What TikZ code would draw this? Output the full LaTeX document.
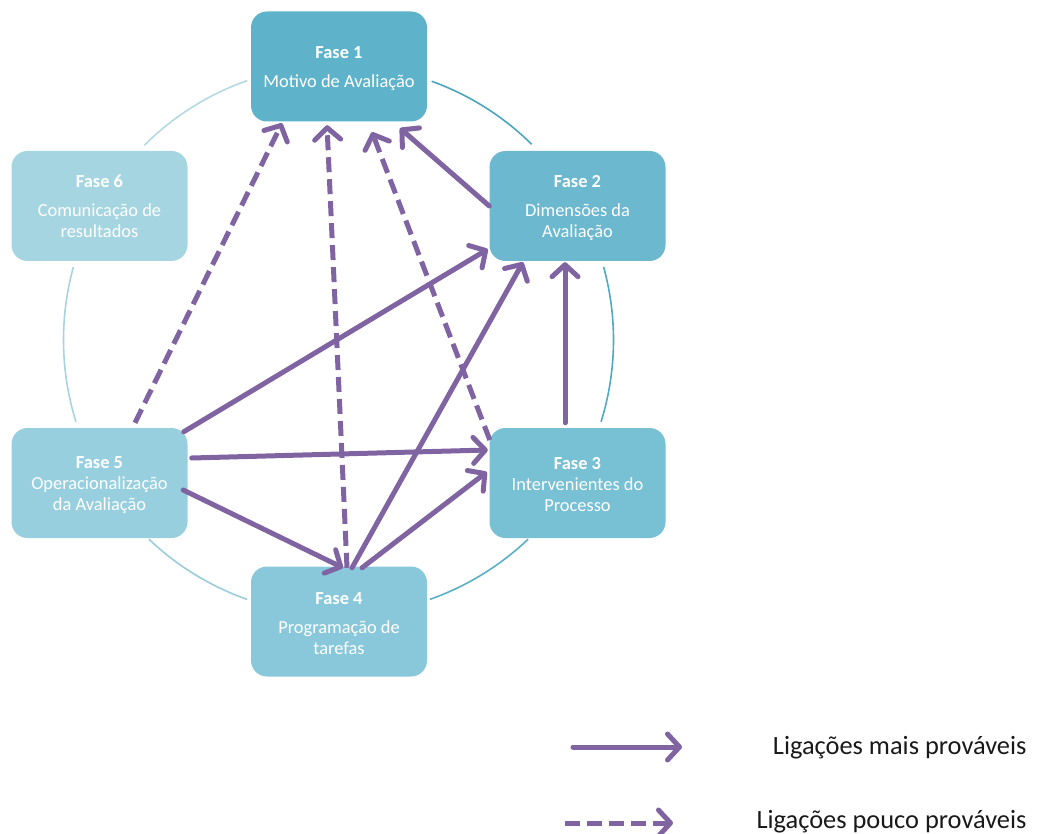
\documentclass[tikz,border=0pt]{standalone}
\usepackage{fontspec}
\setmainfont{Carlito}
\usetikzlibrary{arrows.meta}

% box fills, darkest (phase 1) to lightest (phase 6)
\definecolor{boxA}{HTML}{5EB3CB}
\definecolor{boxB}{HTML}{6BB8CF}
\definecolor{boxC}{HTML}{78C0D4}
\definecolor{boxD}{HTML}{88C8DA}
\definecolor{boxE}{HTML}{97CFDE}
\definecolor{boxF}{HTML}{A6D5E2}
% ring segments
\definecolor{ringA}{HTML}{4BA5BE}
\definecolor{ringB}{HTML}{4FA9C1}
\definecolor{ringC}{HTML}{58AFC7}
\definecolor{ringD}{HTML}{9ACDDB}
\definecolor{ringE}{HTML}{A9D3E0}
\definecolor{ringF}{HTML}{B4D8E4}
% links
\definecolor{link}{HTML}{8064A2}

% taller first line, so the text block sits a little lower in its box
\newcommand\padtop{\rule{0pt}{15.5pt}}

\begin{document}
\begin{tikzpicture}[x=1pt,y=-1pt,
  phase/.style={rounded corners=16pt, minimum width=176pt, minimum height=110pt,
    text=white, align=center, inner sep=0pt,
    font=\fontsize{18.4}{21}\selectfont},
  ring/.style={line width=1.6pt},
  strong/.style={draw=link, line width=5pt, line cap=round,
    -{Straight Barb[length=12pt,width=26pt,round]}},
  weak/.style={strong, line cap=butt, dash pattern=on 15pt off 7pt},
  legendtext/.style={anchor=base east, text=black!90, font=\fontsize{26.4}{30}\selectfont}
]
\useasboundingbox (0,0) rectangle (1044,834);

% ring behind the phases
\draw[ring, draw=ringF] plot[domain=109.4:134.9, samples=40] ({338.5+275*cos(\x)},{340-275*sin(\x)});
\draw[ring, draw=ringA] plot[domain=45.4:70.2, samples=40] ({338.5+275*cos(\x)},{340-275*sin(\x)});
\draw[ring, draw=ringB] plot[domain=-17.3:15.4, samples=40] ({338.5+275*cos(\x)},{340-275*sin(\x)});
\draw[ring, draw=ringC] plot[domain=-70.6:-46.4, samples=40] ({338.5+275*cos(\x)},{340-275*sin(\x)});
\draw[ring, draw=ringD] plot[domain=-133.6:-109.4, samples=40] ({338.5+275*cos(\x)},{340-275*sin(\x)});
\draw[ring, draw=ringE] plot[domain=164.6:197.3, samples=40] ({338.5+275*cos(\x)},{340-275*sin(\x)});

% phases
\node[phase, fill=boxA] (F1) at (339,66.5) {\padtop\textbf{Fase 1}\\[8pt]Motivo de Avaliação};
\node[phase, fill=boxB] (F2) at (577.5,206) {\padtop\textbf{Fase 2}\\[8pt]Dimensões da\\Avaliação};
\node[phase, fill=boxC] (F3) at (577.5,483) {\padtop\textbf{Fase 3}\\Intervenientes do\\Processo};
\node[phase, fill=boxD] (F4) at (339,621.5) {\padtop\textbf{Fase 4}\\[8pt]Programação de\\tarefas};
\node[phase, fill=boxE] (F5) at (99.5,483) {\padtop\textbf{Fase 5}\\Operacionalização\\da Avaliação};
\node[phase, fill=boxF] (F6) at (99.5,206) {\textbf{Fase 6}\\[8pt]Comunicação de\\resultados};

% most likely links
\draw[strong] (F2.west) -- ([xshift=61pt,yshift=-6.5pt]F1.south);
\draw[strong] ([xshift=-4pt,yshift=-4pt]F5.north east) -- ([xshift=-1.5pt,yshift=12pt]F2.south west);
\draw[strong] ([xshift=4pt,yshift=25pt]F5.east) -- ([xshift=-1.5pt,yshift=33pt]F3.west);
\draw[strong] ([xshift=-4.5pt,yshift=-7pt]F5.east) -- ([xshift=4pt,yshift=-1.5pt]F4.north);
\draw[strong] ([xshift=13pt,yshift=-1.5pt]F4.north) -- ([xshift=-54.5pt,yshift=-1pt]F2.south);
\draw[strong] ([xshift=23pt,yshift=-1.5pt]F4.north) -- ([xshift=-2.5pt,yshift=11pt]F3.west);
\draw[strong] ([xshift=-12.5pt,yshift=5pt]F3.north) -- ([xshift=-12.5pt,yshift=-1pt]F2.south);

% less likely links
\draw[weak] ([xshift=35.5pt,yshift=5pt]F5.north) -- ([xshift=-57pt,yshift=-1.5pt]F1.south);
\draw[weak] ([xshift=8pt,yshift=-1.5pt]F4.north) -- ([xshift=-12pt,yshift=-3.5pt]F1.south);
\draw[weak] ([xshift=0.5pt,yshift=43pt]F3.west) -- ([xshift=33pt,yshift=-10.5pt]F1.south);

% legend
\coordinate (ls1) at (573,747);
\coordinate (le1) at (682,747);
\coordinate (ls2) at (565,823);
\coordinate (le2) at (673,823);
\draw[strong] (ls1) -- (le1);
\draw[weak] (ls2) -- (le2);
\node[legendtext] (L1) at (1030,754) {Ligações mais prováveis};
\node[legendtext] (L2) at (1030,828) {Ligações pouco prováveis};
\end{tikzpicture}
\end{document}
